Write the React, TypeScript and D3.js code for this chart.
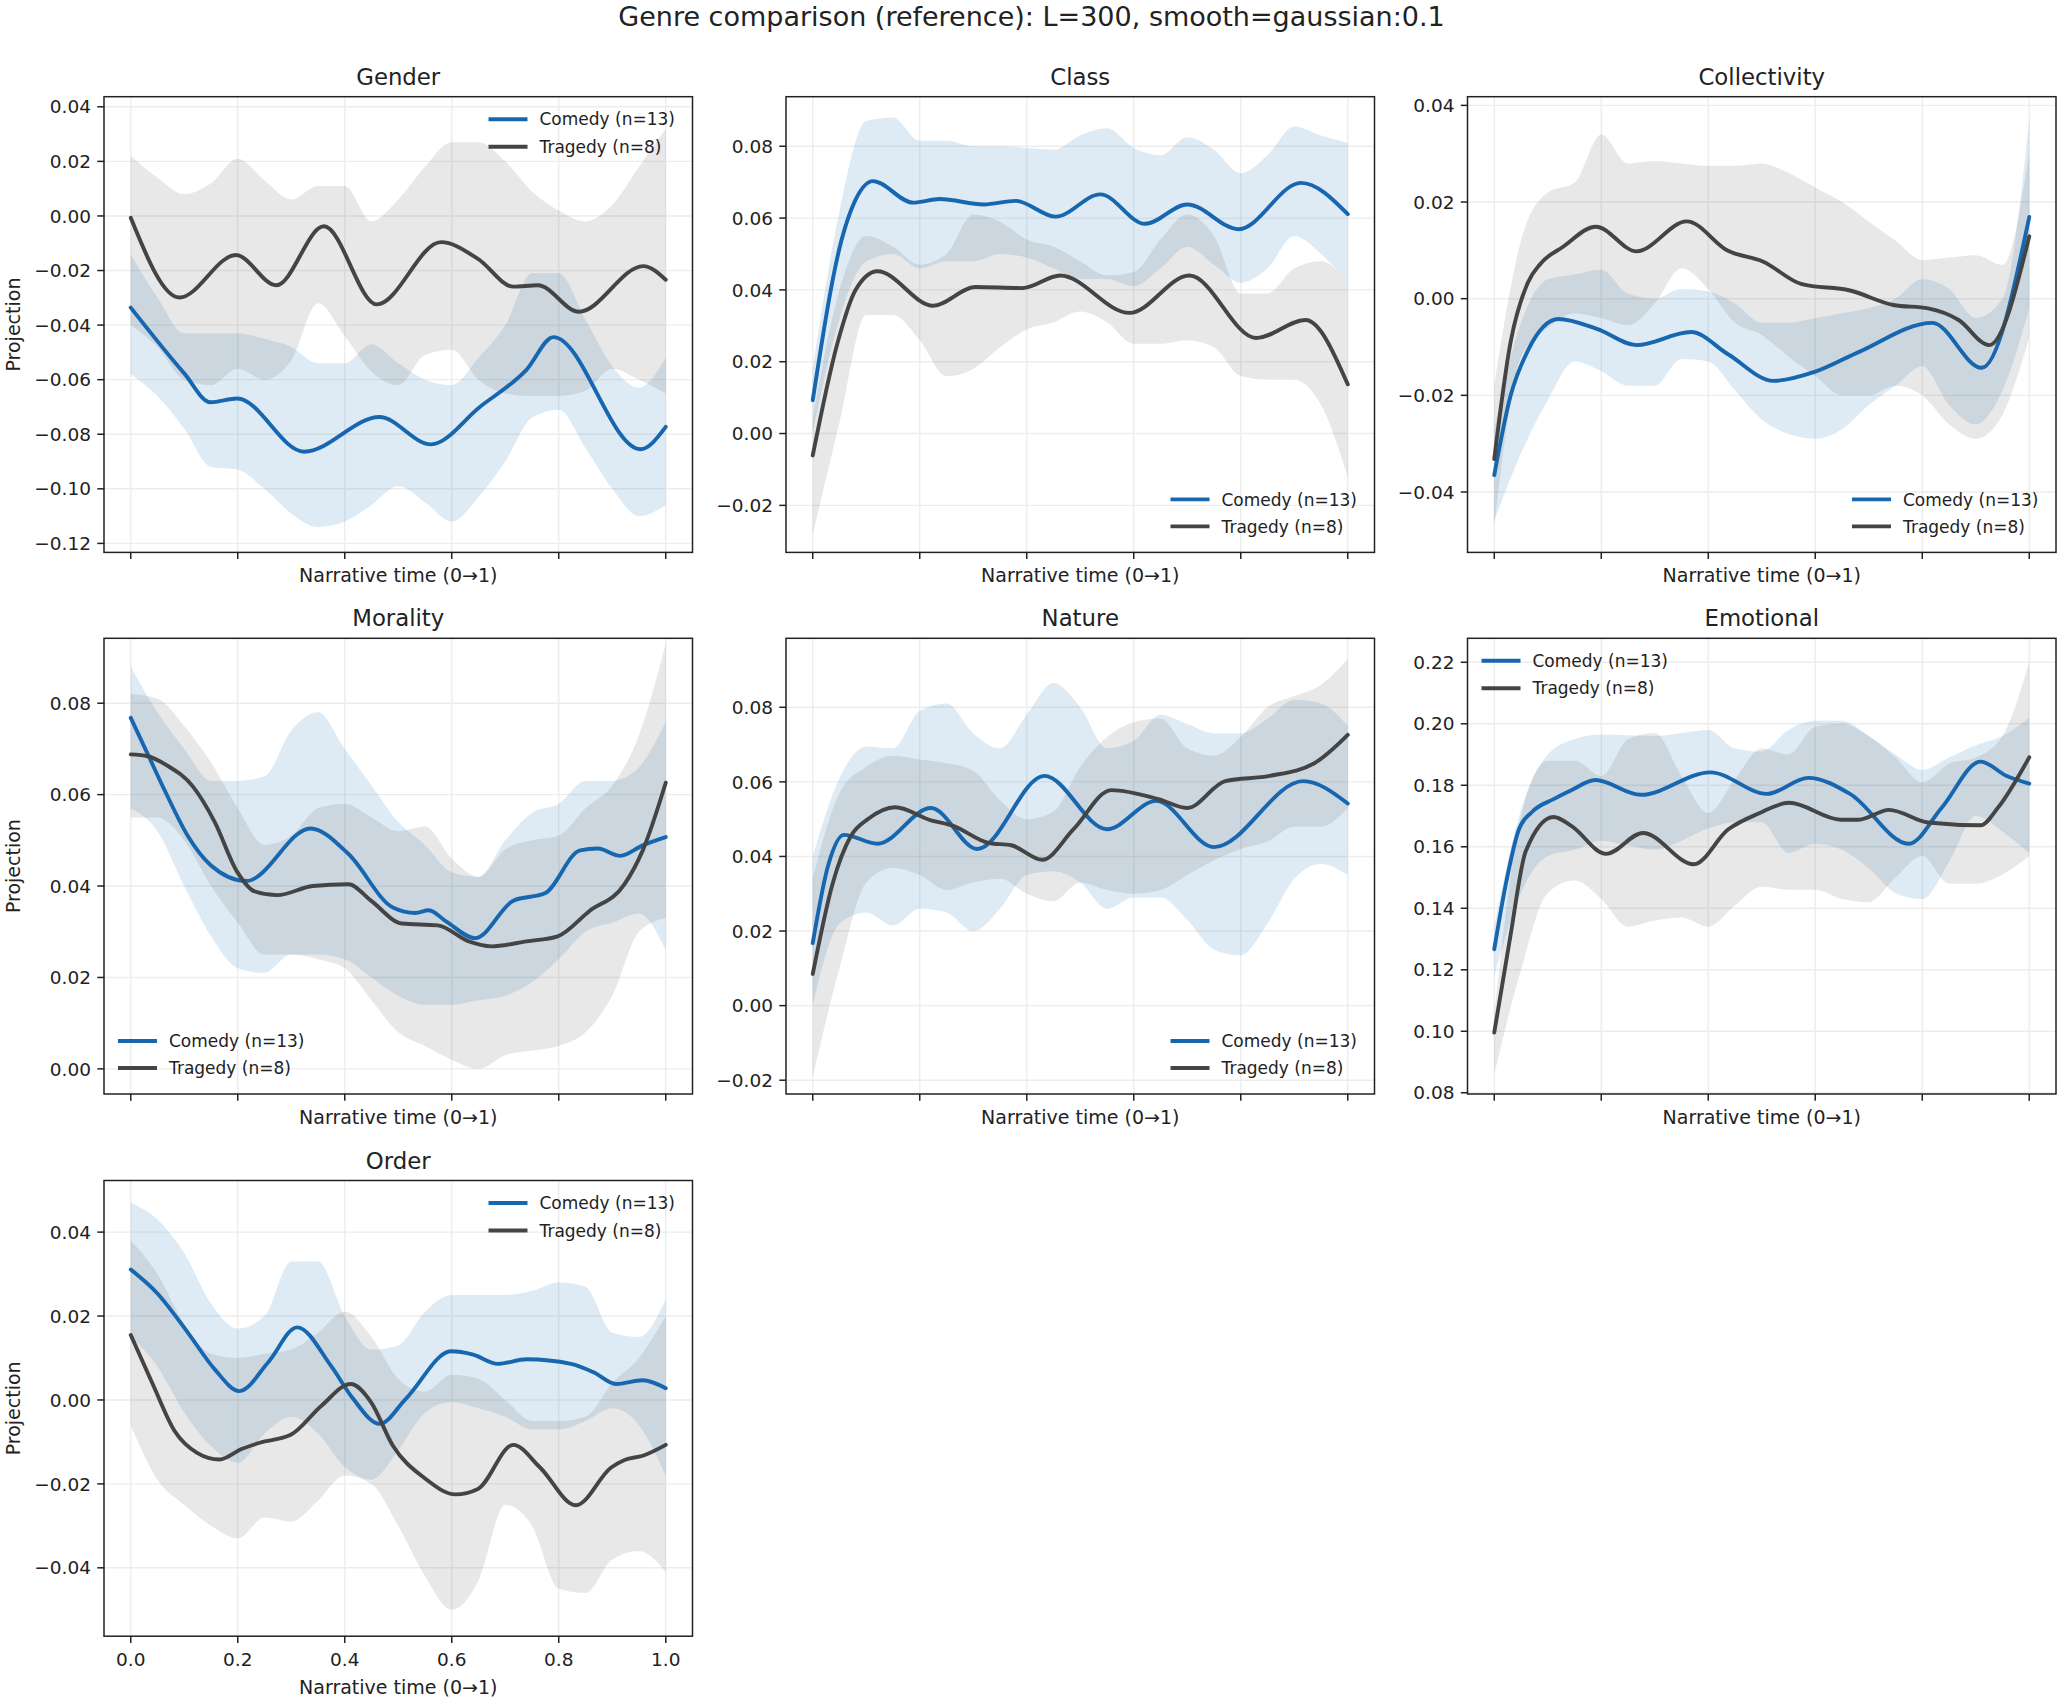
import React from "react";
import * as d3 from "d3";

const W = 2063;
const H = 1701;

// sample positions of the confidence bands
const bandT = [0, 0.05, 0.1, 0.15, 0.2, 0.25, 0.3, 0.35, 0.4, 0.45, 0.5, 0.55, 0.6, 0.65, 0.7, 0.75, 0.8, 0.85, 0.9, 0.95, 1];
const xTicks = [0, 0.2, 0.4, 0.6, 0.8, 1.0];

const seriesNames = ["Comedy (n=13)", "Tragedy (n=8)"];

// ---- Gender
const genderTicks = [-0.12, -0.1, -0.08, -0.06, -0.04, -0.02, 0, 0.02, 0.04];
const genderComedyMean: [number, number][] = [[0, -0.0336], [0.1, -0.0577], [0.149, -0.0683], [0.199, -0.0669], [0.324, -0.0864], [0.465, -0.0737], [0.561, -0.0837], [0.653, -0.0699], [0.74, -0.0563], [0.79, -0.0444], [0.9525, -0.0855], [1, -0.0773]];
const genderTragedyMean: [number, number][] = [[0, -0.0007], [0.091, -0.0299], [0.1965, -0.0143], [0.272, -0.0254], [0.361, -0.0038], [0.46, -0.0324], [0.58, -0.0096], [0.649, -0.0157], [0.715, -0.0259], [0.761, -0.0254], [0.8376, -0.0351], [0.958, -0.0184], [1, -0.0234]];
const genderComedyHi = [-0.014, -0.03, -0.043, -0.043, -0.043, -0.045, -0.048, -0.054, -0.054, -0.047, -0.054, -0.06, -0.062, -0.052, -0.04, -0.021, -0.021, -0.038, -0.055, -0.063, -0.052];
const genderComedyLo = [-0.058, -0.066, -0.078, -0.092, -0.093, -0.1, -0.109, -0.114, -0.112, -0.106, -0.099, -0.105, -0.112, -0.103, -0.09, -0.074, -0.071, -0.085, -0.1, -0.11, -0.106];
const genderTragedyHi = [0.022, 0.014, 0.008, 0.012, 0.021, 0.013, 0.006, 0.011, 0.011, -0.002, 0.006, 0.018, 0.027, 0.027, 0.02, 0.009, 0.002, -0.002, 0.004, 0.018, 0.032];
const genderTragedyLo = [-0.04, -0.048, -0.06, -0.062, -0.056, -0.06, -0.053, -0.032, -0.044, -0.057, -0.062, -0.051, -0.049, -0.06, -0.065, -0.066, -0.066, -0.064, -0.056, -0.06, -0.065];

// ---- Class
const classTicks = [-0.02, 0, 0.02, 0.04, 0.06, 0.08];
const classComedyMean: [number, number][] = [[0, 0.0093], [0.054, 0.054], [0.079, 0.0648], [0.1125, 0.0703], [0.1875, 0.0643], [0.2375, 0.0653], [0.32, 0.0638], [0.379, 0.0648], [0.454, 0.0604], [0.5375, 0.0666], [0.621, 0.0584], [0.7, 0.0638], [0.796, 0.0569], [0.9125, 0.0698], [1, 0.0611]];
const classTragedyMean: [number, number][] = [[0, -0.0061], [0.046, 0.0251], [0.08, 0.04], [0.121, 0.0452], [0.225, 0.0356], [0.304, 0.0408], [0.392, 0.0405], [0.4625, 0.044], [0.592, 0.0336], [0.704, 0.044], [0.829, 0.0266], [0.921, 0.0316], [1, 0.0137]];
const classComedyHi = [0.018, 0.062, 0.087, 0.088, 0.0815, 0.0815, 0.08, 0.08, 0.0795, 0.079, 0.083, 0.085, 0.0795, 0.0775, 0.0825, 0.079, 0.0725, 0.0775, 0.0855, 0.083, 0.081];
const classComedyLo = [0, 0.032, 0.048, 0.05, 0.046, 0.048, 0.048, 0.05, 0.049, 0.046, 0.043, 0.043, 0.041, 0.046, 0.052, 0.047, 0.042, 0.046, 0.055, 0.05, 0.042];
const classTragedyHi = [0.004, 0.04, 0.055, 0.052, 0.047, 0.05, 0.061, 0.059, 0.054, 0.052, 0.048, 0.044, 0.045, 0.054, 0.061, 0.055, 0.039, 0.039, 0.046, 0.048, 0.042];
const classTragedyLo = [-0.028, 0.003, 0.033, 0.033, 0.026, 0.016, 0.018, 0.024, 0.029, 0.031, 0.034, 0.031, 0.025, 0.025, 0.026, 0.024, 0.016, 0.015, 0.015, 0.008, -0.012];

// ---- Collectivity
const collectivityTicks = [-0.04, -0.02, 0, 0.02, 0.04];
const collectivityComedyMean: [number, number][] = [[0, -0.0365], [0.03, -0.0203], [0.063, -0.0107], [0.12, -0.0042], [0.193, -0.0063], [0.266, -0.0096], [0.368, -0.0069], [0.437, -0.0115], [0.522, -0.017], [0.6, -0.0151], [0.68, -0.0111], [0.819, -0.005], [0.911, -0.0143], [1, 0.0169]];
const collectivityTragedyMean: [number, number][] = [[0, -0.0332], [0.03, -0.0093], [0.0627, 0.0033], [0.087, 0.0073], [0.128, 0.0107], [0.19, 0.0149], [0.266, 0.0098], [0.36, 0.016], [0.437, 0.0099], [0.502, 0.0077], [0.575, 0.003], [0.665, 0.0017], [0.746, -0.0013], [0.811, -0.002], [0.868, -0.0044], [0.925, -0.0096], [1, 0.0129]];
const collectivityComedyHi = [-0.027, -0.005, 0.004, 0.005, 0.006, 0.001, 0, 0.002, 0.0015, -0.001, -0.005, -0.005, -0.004, -0.003, -0.002, 0, 0.004, 0.002, -0.004, 0, 0.037];
const collectivityComedyLo = [-0.046, -0.032, -0.021, -0.013, -0.015, -0.018, -0.018, -0.0125, -0.013, -0.019, -0.025, -0.028, -0.029, -0.027, -0.022, -0.018, -0.014, -0.022, -0.026, -0.019, -0.002];
const collectivityTragedyHi = [-0.018, 0.012, 0.022, 0.024, 0.034, 0.028, 0.0285, 0.028, 0.0275, 0.0275, 0.028, 0.026, 0.023, 0.02, 0.016, 0.012, 0.008, 0.0085, 0.009, 0.007, 0.03];
const collectivityTragedyLo = [-0.047, -0.012, -0.006, -0.003, -0.004, -0.0055, -0.001, 0.0063, 0.002, -0.005, -0.0075, -0.012, -0.016, -0.02, -0.02, -0.018, -0.02, -0.026, -0.029, -0.024, -0.008];

// ---- Morality
const moralityTicks = [0, 0.02, 0.04, 0.06, 0.08];
const moralityComedyMean: [number, number][] = [[0, 0.0768], [0.032, 0.0688], [0.066, 0.0603], [0.107, 0.0509], [0.149, 0.0446], [0.216, 0.0411], [0.336, 0.0526], [0.407, 0.047], [0.49, 0.0353], [0.532, 0.0341], [0.557, 0.0347], [0.59, 0.0322], [0.644, 0.0286], [0.715, 0.0368], [0.774, 0.0384], [0.84, 0.0478], [0.873, 0.0482], [0.915, 0.0466], [0.957, 0.0489], [1, 0.0507]];
const moralityTragedyMean: [number, number][] = [[0, 0.0688], [0.032, 0.0684], [0.066, 0.0665], [0.116, 0.0618], [0.157, 0.054], [0.199, 0.0431], [0.232, 0.0388], [0.274, 0.038], [0.34, 0.04], [0.407, 0.0404], [0.449, 0.0368], [0.507, 0.0318], [0.574, 0.0314], [0.632, 0.0279], [0.674, 0.0268], [0.74, 0.0279], [0.798, 0.029], [0.857, 0.0345], [0.923, 0.0404], [0.957, 0.0478], [1, 0.0626]];
const moralityComedyHi = [0.088, 0.078, 0.07, 0.063, 0.063, 0.064, 0.074, 0.078, 0.07, 0.062, 0.054, 0.049, 0.043, 0.042, 0.05, 0.056, 0.058, 0.063, 0.063, 0.066, 0.076];
const moralityComedyLo = [0.057, 0.052, 0.04, 0.029, 0.022, 0.021, 0.025, 0.025, 0.024, 0.02, 0.016, 0.014, 0.014, 0.015, 0.016, 0.019, 0.024, 0.03, 0.032, 0.034, 0.026];
const moralityTragedyHi = [0.082, 0.081, 0.075, 0.067, 0.057, 0.049, 0.051, 0.057, 0.058, 0.055, 0.052, 0.053, 0.046, 0.042, 0.048, 0.05, 0.051, 0.057, 0.062, 0.073, 0.093];
const moralityTragedyLo = [0.055, 0.055, 0.05, 0.04, 0.032, 0.025, 0.025, 0.024, 0.022, 0.015, 0.008, 0.005, 0.002, 0, 0.003, 0.004, 0.005, 0.008, 0.016, 0.03, 0.033];

// ---- Nature
const natureTicks = [-0.02, 0, 0.02, 0.04, 0.06, 0.08];
const natureComedyMean: [number, number][] = [[0, 0.0168], [0.029, 0.0377], [0.058, 0.0458], [0.121, 0.0434], [0.221, 0.053], [0.308, 0.042], [0.433, 0.0616], [0.55, 0.0473], [0.642, 0.0549], [0.75, 0.0425], [0.917, 0.0602], [1, 0.0542]];
const natureTragedyMean: [number, number][] = [[0, 0.0085], [0.0375, 0.0329], [0.071, 0.0454], [0.104, 0.0501], [0.154, 0.0532], [0.221, 0.0497], [0.2625, 0.0482], [0.329, 0.0436], [0.371, 0.043], [0.429, 0.0391], [0.4875, 0.0473], [0.558, 0.0578], [0.646, 0.0554], [0.7, 0.053], [0.771, 0.0602], [0.854, 0.0616], [0.9375, 0.065], [1, 0.0726]];
const natureComedyHi = [0.04, 0.061, 0.0695, 0.069, 0.079, 0.081, 0.073, 0.069, 0.078, 0.0865, 0.08, 0.069, 0.071, 0.078, 0.0755, 0.073, 0.073, 0.077, 0.082, 0.081, 0.075];
const natureComedyLo = [0, 0.022, 0.025, 0.0215, 0.026, 0.025, 0.02, 0.026, 0.035, 0.036, 0.033, 0.026, 0.029, 0.029, 0.023, 0.015, 0.0135, 0.022, 0.034, 0.038, 0.035];
const natureTragedyHi = [0.034, 0.057, 0.064, 0.067, 0.066, 0.065, 0.063, 0.055, 0.05, 0.052, 0.064, 0.072, 0.076, 0.077, 0.069, 0.067, 0.072, 0.08, 0.083, 0.086, 0.093];
const natureTragedyLo = [-0.019, 0.01, 0.033, 0.037, 0.035, 0.031, 0.033, 0.034, 0.03, 0.028, 0.033, 0.031, 0.03, 0.031, 0.035, 0.039, 0.042, 0.044, 0.048, 0.048, 0.053];

// ---- Emotional
const emotionalTicks = [0.08, 0.1, 0.12, 0.14, 0.16, 0.18, 0.2, 0.22];
const emotionalComedyMean: [number, number][] = [[0, 0.1267], [0.022, 0.1482], [0.046, 0.1656], [0.071, 0.1714], [0.111, 0.1755], [0.144, 0.1784], [0.189, 0.1817], [0.274, 0.1769], [0.404, 0.1842], [0.51, 0.1772], [0.587, 0.1824], [0.665, 0.1772], [0.775, 0.161], [0.836, 0.1726], [0.909, 0.1877], [0.958, 0.183], [1, 0.1805]];
const emotionalTragedyMean: [number, number][] = [[0, 0.0996], [0.03, 0.1308], [0.059, 0.1586], [0.111, 0.1697], [0.144, 0.1668], [0.209, 0.1577], [0.278, 0.1645], [0.373, 0.1543], [0.437, 0.1656], [0.494, 0.1708], [0.551, 0.1743], [0.648, 0.1688], [0.681, 0.1688], [0.738, 0.172], [0.811, 0.1679], [0.909, 0.167], [0.941, 0.1726], [1, 0.1891]];
const emotionalComedyHi = [0.134, 0.172, 0.19, 0.195, 0.1965, 0.1963, 0.196, 0.197, 0.198, 0.192, 0.191, 0.198, 0.201, 0.201, 0.196, 0.19, 0.185, 0.189, 0.193, 0.196, 0.202];
const emotionalComedyLo = [0.118, 0.145, 0.157, 0.159, 0.162, 0.1605, 0.159, 0.162, 0.166, 0.168, 0.168, 0.158, 0.161, 0.159, 0.153, 0.145, 0.143, 0.155, 0.17, 0.165, 0.158];
const emotionalTragedyHi = [0.105, 0.17, 0.188, 0.188, 0.183, 0.195, 0.197, 0.183, 0.171, 0.182, 0.192, 0.19, 0.199, 0.2, 0.196, 0.189, 0.181, 0.187, 0.189, 0.196, 0.22];
const emotionalTragedyLo = [0.086, 0.12, 0.145, 0.149, 0.143, 0.134, 0.136, 0.137, 0.134, 0.141, 0.147, 0.146, 0.146, 0.143, 0.142, 0.15, 0.157, 0.148, 0.148, 0.151, 0.157];

// ---- Order
const orderTicks = [-0.04, -0.02, 0, 0.02, 0.04];
const orderComedyMean: [number, number][] = [[0, 0.0311], [0.049, 0.0255], [0.107, 0.016], [0.157, 0.0073], [0.203, 0.0021], [0.257, 0.009], [0.311, 0.0173], [0.374, 0.0082], [0.415, 0.0004], [0.465, -0.0057], [0.515, 0.0004], [0.599, 0.0116], [0.64, 0.0108], [0.686, 0.0086], [0.74, 0.0097], [0.823, 0.0086], [0.865, 0.0066], [0.907, 0.0038], [0.957, 0.0047], [1, 0.0028]];
const orderTragedyMean: [number, number][] = [[0, 0.0155], [0.041, 0.0038], [0.082, -0.0074], [0.124, -0.0126], [0.166, -0.0142], [0.207, -0.0117], [0.241, -0.0102], [0.299, -0.0083], [0.357, -0.0013], [0.411, 0.0038], [0.449, -0.0005], [0.49, -0.0109], [0.549, -0.0186], [0.607, -0.0225], [0.649, -0.0212], [0.715, -0.0107], [0.765, -0.0161], [0.832, -0.0251], [0.898, -0.0161], [0.923, -0.0143], [0.957, -0.0133], [1, -0.0107]];
const orderComedyHi = [0.047, 0.043, 0.035, 0.023, 0.017, 0.02, 0.033, 0.033, 0.02, 0.012, 0.013, 0.021, 0.025, 0.025, 0.025, 0.026, 0.028, 0.027, 0.016, 0.015, 0.024];
const orderComedyLo = [0.015, 0.008, -0.003, -0.011, -0.015, -0.008, -0.004, -0.008, -0.016, -0.019, -0.012, -0.003, -0.0005, -0.002, -0.004, -0.007, -0.007, -0.005, -0.002, -0.006, -0.018];
const orderTragedyHi = [0.038, 0.03, 0.018, 0.011, 0.01, 0.011, 0.012, 0.016, 0.021, 0.015, 0.005, 0.002, 0.006, 0.005, 0, -0.005, -0.005, -0.004, 0.004, 0.01, 0.02];
const orderTragedyLo = [-0.006, -0.019, -0.025, -0.03, -0.033, -0.028, -0.029, -0.024, -0.018, -0.02, -0.03, -0.042, -0.05, -0.043, -0.025, -0.03, -0.045, -0.046, -0.038, -0.036, -0.041];

type Series = { mean: [number, number][]; lo: number[]; hi: number[] };
type Panel = {
  title: string;
  domain: [number, number];
  ticks: number[];
  legend: "ur" | "ul" | "lr" | "ll";
  row: number;
  col: number;
  comedy: Series;
  tragedy: Series;
};

const panels: Panel[] = [
  { title: "Gender", domain: [-0.1233, 0.0437], ticks: genderTicks, legend: "ur", row: 0, col: 0,
    comedy: { mean: genderComedyMean, lo: genderComedyLo, hi: genderComedyHi },
    tragedy: { mean: genderTragedyMean, lo: genderTragedyLo, hi: genderTragedyHi } },
  { title: "Class", domain: [-0.0331, 0.0938], ticks: classTicks, legend: "lr", row: 0, col: 1,
    comedy: { mean: classComedyMean, lo: classComedyLo, hi: classComedyHi },
    tragedy: { mean: classTragedyMean, lo: classTragedyLo, hi: classTragedyHi } },
  { title: "Collectivity", domain: [-0.0525, 0.0418], ticks: collectivityTicks, legend: "lr", row: 0, col: 2,
    comedy: { mean: collectivityComedyMean, lo: collectivityComedyLo, hi: collectivityComedyHi },
    tragedy: { mean: collectivityTragedyMean, lo: collectivityTragedyLo, hi: collectivityTragedyHi } },
  { title: "Morality", domain: [-0.0055, 0.0942], ticks: moralityTicks, legend: "ll", row: 1, col: 0,
    comedy: { mean: moralityComedyMean, lo: moralityComedyLo, hi: moralityComedyHi },
    tragedy: { mean: moralityTragedyMean, lo: moralityTragedyLo, hi: moralityTragedyHi } },
  { title: "Nature", domain: [-0.0237, 0.0985], ticks: natureTicks, legend: "lr", row: 1, col: 1,
    comedy: { mean: natureComedyMean, lo: natureComedyLo, hi: natureComedyHi },
    tragedy: { mean: natureTragedyMean, lo: natureTragedyLo, hi: natureTragedyHi } },
  { title: "Emotional", domain: [0.0796, 0.2278], ticks: emotionalTicks, legend: "ul", row: 1, col: 2,
    comedy: { mean: emotionalComedyMean, lo: emotionalComedyLo, hi: emotionalComedyHi },
    tragedy: { mean: emotionalTragedyMean, lo: emotionalTragedyLo, hi: emotionalTragedyHi } },
  { title: "Order", domain: [-0.0563, 0.0523], ticks: orderTicks, legend: "ur", row: 2, col: 0,
    comedy: { mean: orderComedyMean, lo: orderComedyLo, hi: orderComedyHi },
    tragedy: { mean: orderTragedyMean, lo: orderTragedyLo, hi: orderTragedyHi } },
];

const font = "'DejaVu Sans', sans-serif";
const colors = {
  comedy: "#1767b0",
  tragedy: "#444444",
  comedyBand: "rgba(31,119,180,0.15)",
  tragedyBand: "rgba(68,68,68,0.12)",
  ink: "#222",
  grid: "#ededed",
};

// subplot grid geometry
const colLeft = [104, 786, 1467.5];
const rowTop = [96.7, 638.3, 1180.5];
const PW = 588.5;
const PH = 455.7;
const TICK = 6.7;

const yFmt = d3.format(".2f");
const xFmt = d3.format(".1f");

function PanelView({ p, idx }: { p: Panel; idx: number }) {
  const left = colLeft[p.col];
  const top = rowTop[p.row];
  const right = left + PW;
  const bottom = top + PH;
  const x = d3.scaleLinear().domain([-0.05, 1.05]).range([left, right]);
  const y = d3.scaleLinear().domain(p.domain).range([bottom, top]);

  const line = d3.line<[number, number]>()
    .x(d => x(d[0]))
    .y(d => y(d[1]))
    .curve(d3.curveMonotoneX);

  const band = (s: Series) =>
    d3.area<number>()
      .x(d => x(d))
      .y0((_, i) => y(s.lo[i]))
      .y1((_, i) => y(s.hi[i]))
      .curve(d3.curveMonotoneX)(bandT) || "";

  const showXLabels = p.row === 2;
  const showYLabel = p.col === 0;
  const clipId = `clip-${idx}`;

  // legend placement
  const handleX = p.legend === "ur" || p.legend === "lr" ? right - 204 : left + 14;
  const rowsY = p.legend === "ur" || p.legend === "ul"
    ? [top + 22.5, top + 50]
    : [bottom - 53, bottom - 26];

  return (
    <g>
      <defs>
        <clipPath id={clipId}>
          <rect x={left} y={top} width={PW} height={PH} />
        </clipPath>
      </defs>

      {/* grid */}
      {xTicks.map(t => (
        <line key={`gx${t}`} x1={x(t)} x2={x(t)} y1={top} y2={bottom} stroke={colors.grid} strokeWidth={1.4} />
      ))}
      {p.ticks.map(t => (
        <line key={`gy${t}`} x1={left} x2={right} y1={y(t)} y2={y(t)} stroke={colors.grid} strokeWidth={1.4} />
      ))}

      <g clipPath={`url(#${clipId})`}>
        <path d={band(p.comedy)} fill={colors.comedyBand} />
        <path d={band(p.tragedy)} fill={colors.tragedyBand} />
        <path d={line(p.comedy.mean) || ""} fill="none" stroke={colors.comedy} strokeWidth={3.9} strokeLinejoin="round" strokeLinecap="round" />
        <path d={line(p.tragedy.mean) || ""} fill="none" stroke={colors.tragedy} strokeWidth={3.9} strokeLinejoin="round" strokeLinecap="round" />
      </g>

      {/* spines */}
      <rect x={left} y={top} width={PW} height={PH} fill="none" stroke={colors.ink} strokeWidth={1.5} />

      {/* x ticks */}
      {xTicks.map(t => (
        <g key={`xt${t}`}>
          <line x1={x(t)} x2={x(t)} y1={bottom} y2={bottom + TICK} stroke={colors.ink} strokeWidth={1.5} />
          {showXLabels && (
            <text x={x(t)} y={bottom + 30} textAnchor="middle" fontSize={18.5} fill={colors.ink} fontFamily={font}>
              {xFmt(t)}
            </text>
          )}
        </g>
      ))}

      {/* y ticks */}
      {p.ticks.map(t => (
        <g key={`yt${t}`}>
          <line x1={left - TICK} x2={left} y1={y(t)} y2={y(t)} stroke={colors.ink} strokeWidth={1.5} />
          <text x={left - 13} y={y(t)} dy="0.36em" textAnchor="end" fontSize={18.5} fill={colors.ink} fontFamily={font}>
            {yFmt(t)}
          </text>
        </g>
      ))}

      {/* titles */}
      <text x={(left + right) / 2} y={top - 12} textAnchor="middle" fontSize={22.8} fill={colors.ink} fontFamily={font}>
        {p.title}
      </text>
      <text x={(left + right) / 2} y={bottom + (showXLabels ? 58 : 29.5)} textAnchor="middle" fontSize={19} fill={colors.ink} fontFamily={font}>
        Narrative time (0→1)
      </text>
      {showYLabel && (
        <text transform={`translate(19.5,${(top + bottom) / 2}) rotate(-90)`} textAnchor="middle" fontSize={19} fill={colors.ink} fontFamily={font}>
          Projection
        </text>
      )}

      {/* legend */}
      {seriesNames.map((name, i) => (
        <g key={name}>
          <line x1={handleX} x2={handleX + 39} y1={rowsY[i]} y2={rowsY[i]}
            stroke={i === 0 ? colors.comedy : colors.tragedy} strokeWidth={3.9} />
          <text x={handleX + 51} y={rowsY[i]} dy="0.36em" fontSize={17} fill={colors.ink} fontFamily={font}>
            {name}
          </text>
        </g>
      ))}
    </g>
  );
}

export default function App() {
  return (
    <svg width={W} height={H} viewBox={`0 0 ${W} ${H}`}
      style={{ position: "absolute", left: 0, top: 0, background: "#fff" }}>
      <rect width={W} height={H} fill="#fff" />
      <text x={W / 2} y={26} textAnchor="middle" fontSize={27} fill={colors.ink} fontFamily={font}>
        Genre comparison (reference): L=300, smooth=gaussian:0.1
      </text>
      {panels.map((p, i) => (
        <PanelView key={p.title} p={p} idx={i} />
      ))}
    </svg>
  );
}
